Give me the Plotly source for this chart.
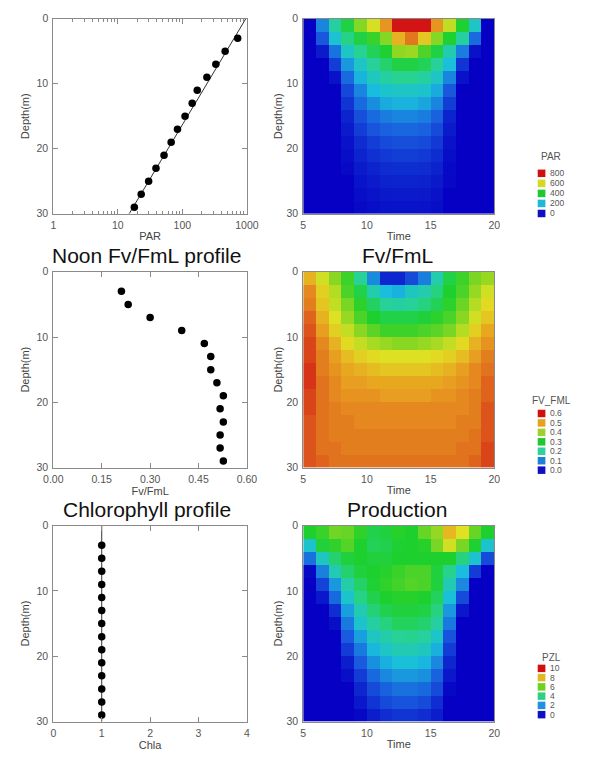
import plotly.graph_objects as go

W, H = 594, 761

# ---------------- data ----------------
depth_pts = [3, 5, 7, 9, 11, 13, 15, 17, 19, 21, 23, 25, 27, 29]
par_profile = [720, 460, 330, 240, 170, 142, 110, 84, 67, 52, 39, 30, 23, 18]
par_fit_depth = [0, 30]
par_fit = [960, 15]

fv_profile = [0.211, 0.232, 0.300, 0.398, 0.468, 0.488, 0.488, 0.507, 0.527,
              0.517, 0.527, 0.517, 0.517, 0.527]

chl_profile = [1.0] * 14
chl_line_depth = [0, 30]
chl_line = [1.0, 1.0]

times = [5.5, 6.5, 7.5, 8.5, 9.5, 10.5, 11.5, 12.5, 13.5, 14.5, 15.5, 16.5, 17.5, 18.5, 19.5]
depth_cells = [1, 3, 5, 7, 9, 11, 13, 15, 17, 19, 21, 23, 25, 27, 29]

par_grid = [
    [0, 150, 300, 400, 520, 600, 720, 850, 880, 850, 720, 580, 420, 250, 0],
    [0, 100, 230, 330, 400, 450, 520, 680, 760, 650, 520, 420, 300, 120, 0],
    [0, 30, 130, 250, 320, 380, 420, 530, 540, 470, 400, 280, 140, 20, 0],
    [0, 0, 70, 170, 250, 310, 360, 400, 400, 380, 310, 220, 60, 0, 0],
    [0, 0, 20, 120, 200, 260, 300, 320, 320, 300, 250, 150, 20, 0, 0],
    [0, 0, 0, 80, 150, 210, 240, 250, 250, 240, 190, 100, 0, 0, 0],
    [0, 0, 0, 60, 120, 160, 190, 200, 200, 185, 150, 70, 0, 0, 0],
    [0, 0, 0, 40, 90, 120, 140, 150, 150, 140, 110, 40, 0, 0, 0],
    [0, 0, 0, 30, 70, 95, 110, 115, 115, 110, 85, 30, 0, 0, 0],
    [0, 0, 0, 20, 50, 70, 85, 90, 90, 85, 65, 20, 0, 0, 0],
    [0, 0, 0, 15, 40, 55, 65, 70, 70, 65, 50, 15, 0, 0, 0],
    [0, 0, 0, 10, 30, 40, 50, 52, 52, 50, 38, 10, 0, 0, 0],
    [0, 0, 0, 0, 22, 30, 38, 40, 40, 38, 28, 8, 0, 0, 0],
    [0, 0, 0, 0, 15, 22, 28, 30, 30, 28, 20, 0, 0, 0, 0],
    [0, 0, 0, 0, 10, 16, 20, 22, 22, 20, 15, 0, 0, 0, 0],
]

fv_grid = [
    [0.48, 0.42, 0.37, 0.32, 0.22, 0.11, 0.03, 0.03, 0.06, 0.10, 0.20, 0.28, 0.32, 0.36, 0.38],
    [0.52, 0.45, 0.40, 0.33, 0.28, 0.20, 0.15, 0.14, 0.18, 0.20, 0.24, 0.30, 0.33, 0.38, 0.42],
    [0.53, 0.46, 0.41, 0.36, 0.31, 0.26, 0.22, 0.21, 0.22, 0.24, 0.27, 0.31, 0.35, 0.40, 0.44],
    [0.55, 0.48, 0.43, 0.38, 0.33, 0.30, 0.28, 0.28, 0.28, 0.29, 0.31, 0.33, 0.37, 0.42, 0.46],
    [0.56, 0.50, 0.45, 0.41, 0.37, 0.34, 0.32, 0.32, 0.32, 0.33, 0.34, 0.36, 0.40, 0.45, 0.49],
    [0.57, 0.52, 0.48, 0.44, 0.41, 0.39, 0.38, 0.37, 0.37, 0.38, 0.39, 0.41, 0.44, 0.48, 0.51],
    [0.57, 0.53, 0.50, 0.47, 0.45, 0.44, 0.43, 0.43, 0.43, 0.43, 0.44, 0.45, 0.47, 0.50, 0.53],
    [0.58, 0.53, 0.51, 0.49, 0.48, 0.47, 0.46, 0.46, 0.46, 0.46, 0.47, 0.48, 0.50, 0.52, 0.54],
    [0.58, 0.54, 0.52, 0.50, 0.50, 0.49, 0.49, 0.49, 0.49, 0.49, 0.49, 0.50, 0.51, 0.52, 0.55],
    [0.57, 0.54, 0.52, 0.51, 0.51, 0.51, 0.50, 0.50, 0.50, 0.50, 0.51, 0.51, 0.52, 0.53, 0.55],
    [0.57, 0.54, 0.53, 0.52, 0.52, 0.52, 0.52, 0.52, 0.52, 0.52, 0.52, 0.52, 0.52, 0.53, 0.56],
    [0.56, 0.54, 0.53, 0.53, 0.52, 0.52, 0.52, 0.52, 0.52, 0.52, 0.52, 0.52, 0.53, 0.53, 0.56],
    [0.56, 0.54, 0.53, 0.53, 0.53, 0.53, 0.53, 0.53, 0.53, 0.53, 0.53, 0.53, 0.53, 0.54, 0.56],
    [0.56, 0.54, 0.54, 0.53, 0.53, 0.53, 0.53, 0.53, 0.53, 0.53, 0.53, 0.53, 0.54, 0.54, 0.57],
    [0.56, 0.55, 0.54, 0.54, 0.54, 0.54, 0.54, 0.54, 0.54, 0.54, 0.54, 0.54, 0.54, 0.55, 0.57],
]

pzl_grid = [
    [5.0, 5.3, 5.9, 5.8, 5.2, 4.6, 4.8, 5.1, 5.0, 5.8, 6.3, 7.9, 7.2, 5.8, 5.0],
    [2.8, 4.8, 5.2, 5.6, 5.0, 4.5, 4.6, 4.9, 5.0, 5.1, 6.0, 7.0, 6.0, 4.9, 2.8],
    [1.5, 3.0, 4.2, 4.8, 5.0, 4.8, 4.8, 5.0, 5.0, 5.0, 5.0, 5.0, 4.0, 2.8, 1.0],
    [0.1, 1.7, 3.2, 4.2, 4.8, 5.0, 5.1, 5.3, 5.5, 5.5, 4.8, 3.8, 2.5, 0.8, 0.0],
    [0.0, 0.9, 2.0, 3.4, 4.3, 4.9, 5.2, 5.4, 5.6, 5.5, 4.8, 3.2, 1.8, 0.0, 0.0],
    [0.0, 0.3, 1.4, 2.8, 3.9, 4.6, 5.0, 5.1, 5.1, 5.0, 4.4, 2.6, 1.0, 0.0, 0.0],
    [0.0, 0.0, 0.6, 2.1, 3.2, 4.1, 4.6, 4.8, 4.8, 4.7, 4.0, 2.0, 0.3, 0.0, 0.0],
    [0.0, 0.0, 0.2, 1.6, 2.8, 3.5, 4.0, 4.4, 4.4, 4.2, 3.5, 1.6, 0.0, 0.0, 0.0],
    [0.0, 0.0, 0.0, 1.2, 2.1, 3.0, 3.4, 3.7, 3.8, 3.6, 2.9, 1.1, 0.0, 0.0, 0.0],
    [0.0, 0.0, 0.0, 0.8, 1.6, 2.4, 2.9, 3.2, 3.2, 3.0, 2.3, 0.8, 0.0, 0.0, 0.0],
    [0.0, 0.0, 0.0, 0.4, 1.2, 1.9, 2.3, 2.6, 2.6, 2.4, 1.8, 0.5, 0.0, 0.0, 0.0],
    [0.0, 0.0, 0.0, 0.2, 0.8, 1.4, 1.8, 2.0, 2.0, 1.9, 1.3, 0.3, 0.0, 0.0, 0.0],
    [0.0, 0.0, 0.0, 0.0, 0.5, 1.0, 1.3, 1.5, 1.5, 1.4, 1.0, 0.1, 0.0, 0.0, 0.0],
    [0.0, 0.0, 0.0, 0.0, 0.3, 0.7, 1.0, 1.1, 1.1, 1.0, 0.6, 0.0, 0.0, 0.0, 0.0],
    [0.0, 0.0, 0.0, 0.0, 0.1, 0.4, 0.6, 0.7, 0.7, 0.6, 0.4, 0.0, 0.0, 0.0, 0.0],
]

par_legend_labels = ["800", "600", "400", "200", "0"]
fv_legend_labels = ["0.6", "0.5", "0.4", "0.3", "0.2", "0.1", "0.0"]
pzl_legend_labels = ["10", "8", "6", "4", "2", "0"]

par_minor_ticks = [2, 3, 4, 5, 6, 7, 8, 9, 20, 30, 40, 50, 60, 70, 80, 90,
                   200, 300, 400, 500, 600, 700, 800, 900]

# ---------------- styles ----------------
rainbow = [
    [0.00, "rgb(5,0,195)"],
    [0.12, "rgb(25,90,222)"],
    [0.25, "rgb(25,190,222)"],
    [0.37, "rgb(40,210,150)"],
    [0.50, "rgb(30,208,45)"],
    [0.62, "rgb(140,215,35)"],
    [0.72, "rgb(225,225,35)"],
    [0.83, "rgb(232,160,32)"],
    [0.90, "rgb(225,115,30)"],
    [1.00, "rgb(210,20,20)"],
]
par_legend_colors = ["#d01010", "#d8d820", "#20c830", "#20b8d8", "#1010c0"]
fv_legend_colors = ["#d01010", "#e8a020", "#a0d030", "#20c830", "#30d0a0", "#2080d8", "#1010c0"]
pzl_legend_colors = ["#d01010", "#e0b820", "#70d020", "#30d080", "#2090e0", "#1010c0"]

FONT = "Liberation Sans, Arial, sans-serif"
NARROW = "Liberation Sans Narrow, Arial Narrow, Liberation Sans, sans-serif"
TICKC = "#555555"
FRAME = "#8a8a8a"


def px_x(p):
    return p / W


def px_y(p):
    return 1 - p / H


LX = [px_x(45), px_x(246)]
RX = [px_x(304.5), px_x(503)]
ROWS = [[px_y(211), px_y(13)], [px_y(469), px_y(270)], [px_y(727), px_y(528)]]

fig = go.Figure()

marker = dict(color="black", size=7.5, symbol="circle")

# Panel 1: PAR profile
fig.add_trace(go.Scatter(x=par_fit, y=par_fit_depth, mode="lines",
                         line=dict(color="#333333", width=1), xaxis="x", yaxis="y",
                         showlegend=False, hoverinfo="skip"))
fig.add_trace(go.Scatter(x=par_profile, y=depth_pts, mode="markers", marker=marker,
                         xaxis="x", yaxis="y", showlegend=False))
# Panel 2: PAR heatmap
fig.add_trace(go.Heatmap(x=times, y=depth_cells, z=par_grid, colorscale=rainbow,
                         zmin=0, zmax=850, showscale=False, xaxis="x2", yaxis="y2"))
# Panel 3: Fv/FmL profile
fig.add_trace(go.Scatter(x=fv_profile, y=depth_pts, mode="markers", marker=marker,
                         xaxis="x3", yaxis="y3", showlegend=False))
# Panel 4: Fv/FmL heatmap
fig.add_trace(go.Heatmap(x=times, y=depth_cells, z=fv_grid, colorscale=rainbow,
                         zmin=0, zmax=0.6, showscale=False, xaxis="x4", yaxis="y4"))
# Panel 5: Chlorophyll profile
fig.add_trace(go.Scatter(x=chl_line, y=chl_line_depth, mode="lines",
                         line=dict(color="#333333", width=1), xaxis="x5", yaxis="y5",
                         showlegend=False, hoverinfo="skip"))
fig.add_trace(go.Scatter(x=chl_profile, y=depth_pts, mode="markers", marker=marker,
                         xaxis="x5", yaxis="y5", showlegend=False))
# Panel 6: Production heatmap
fig.add_trace(go.Heatmap(x=times, y=depth_cells, z=pzl_grid, colorscale=rainbow,
                         zmin=0, zmax=10, showscale=False, xaxis="x6", yaxis="y6"))

tickfont = dict(family=FONT, size=10.5, color=TICKC)
titlefont = dict(family=FONT, size=11, color="#444444")


def xax(domain, anchor, rng, tickvals, ticktext, title, log=False, ticks="inside", minor=None):
    d = dict(domain=domain, anchor=anchor, range=rng, tickvals=tickvals, ticktext=ticktext,
             ticks=ticks, ticklen=5, tickcolor=FRAME, showline=True, linecolor=FRAME,
             linewidth=1, mirror="ticks" if ticks else True, showgrid=False, zeroline=False,
             tickfont=tickfont, ticklabelstandoff=2,
             title=dict(text=title, font=titlefont, standoff=2), fixedrange=True)
    if log:
        d["type"] = "log"
    if minor:
        d["minor"] = minor
    return d


def yax(domain, anchor, title, ticks="inside", standoff=4):
    return dict(domain=domain, anchor=anchor, range=[30, 0], tickvals=[0, 10, 20, 30],
                ticks=ticks, ticklen=5, tickcolor=FRAME, showline=True, linecolor=FRAME,
                linewidth=1, mirror="ticks" if ticks else True, showgrid=False,
                zeroline=False, tickfont=tickfont, ticklabelstandoff=2,
                title=dict(text=title, font=titlefont, standoff=standoff), fixedrange=True)


layout = dict(
    width=W, height=H, margin=dict(l=0, r=0, t=0, b=0),
    paper_bgcolor="white", plot_bgcolor="white", showlegend=False,
    xaxis=xax(LX, "y", [0, 3], [1, 10, 100, 1000], ["1", "10", "100", "1000"], "PAR",
              log=True, minor=dict(tickmode="array", tickvals=par_minor_ticks, ticks="inside",
                                   ticklen=3, tickcolor=FRAME, showgrid=False)),
    yaxis=yax(ROWS[0], "x", "Depth(m)"),
    xaxis2=xax(RX, "y2", [5, 20], [5, 10, 15, 20], ["5", "10", "15", "20"], "Time", ticks=""),
    yaxis2=yax(ROWS[0], "x2", "Depth(m)", ticks="", standoff=1),
    xaxis3=xax(LX, "y3", [0, 0.6], [0, 0.15, 0.3, 0.45, 0.6],
               ["0.00", "0.15", "0.30", "0.45", "0.60"], "Fv/FmL"),
    yaxis3=yax(ROWS[1], "x3", "Depth(m)"),
    xaxis4=xax(RX, "y4", [5, 20], [5, 10, 15, 20], ["5", "10", "15", "20"], "Time", ticks=""),
    yaxis4=yax(ROWS[1], "x4", "Depth(m)", ticks="", standoff=1),
    xaxis5=xax(LX, "y5", [0, 4], [0, 1, 2, 3, 4], ["0", "1", "2", "3", "4"], "Chla"),
    yaxis5=yax(ROWS[2], "x5", "Depth(m)"),
    xaxis6=xax(RX, "y6", [5, 20], [5, 10, 15, 20], ["5", "10", "15", "20"], "Time", ticks=""),
    yaxis6=yax(ROWS[2], "x6", "Depth(m)", ticks="", standoff=1),
)
fig.update_layout(**layout)

# Titles
title_font = dict(family=FONT, size=21, color="#111111")
for txt, xc, yc in [("Noon Fv/FmL profile", 142, 253), ("Fv/FmL", 402, 253),
                    ("Chlorophyll profile", 142, 512), ("Production", 402, 512)]:
    fig.add_annotation(text=txt, x=px_x(xc), y=px_y(yc), xref="paper", yref="paper",
                       showarrow=False, font=title_font, xanchor="center", yanchor="middle")


# Discrete legends (colour keys)
def add_key(title, labels, colors, title_y, first_y, step):
    fig.add_annotation(text=title, x=px_x(562), y=px_y(title_y), xref="paper", yref="paper",
                       showarrow=False, xanchor="center", yanchor="middle",
                       font=dict(family=NARROW, size=10, color="#555555"))
    for i, (lab, col) in enumerate(zip(labels, colors)):
        yc = first_y + i * step
        fig.add_shape(type="rect", xref="paper", yref="paper",
                      x0=px_x(548), x1=px_x(556), y0=px_y(yc + 3.8), y1=px_y(yc - 3.8),
                      fillcolor=col, line=dict(width=0))
        fig.add_annotation(text=lab, x=px_x(559), y=px_y(yc), xref="paper", yref="paper",
                           showarrow=False, xanchor="left", yanchor="middle",
                           font=dict(family=NARROW, size=8.5, color="#555555"))


add_key("PAR", par_legend_labels, par_legend_colors, 153, 170, 10.2)
add_key("FV_FML", fv_legend_labels, fv_legend_colors, 401, 414, 9.6)
add_key("PZL", pzl_legend_labels, pzl_legend_colors, 662, 673, 9.4)

fig.write_html("out.html")
